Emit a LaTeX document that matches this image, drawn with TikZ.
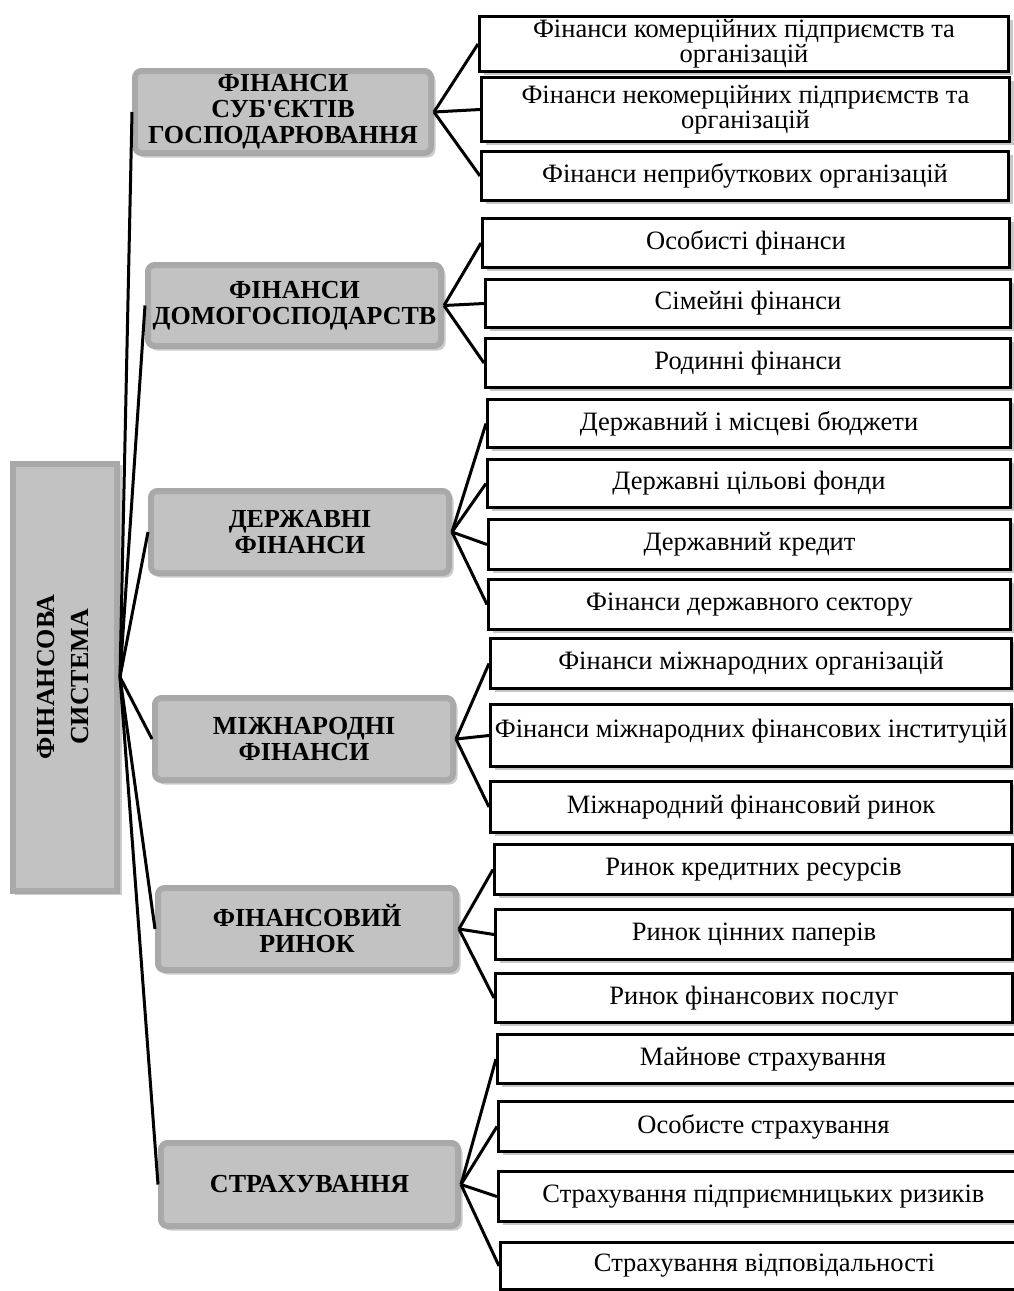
\documentclass[tikz,border=0pt]{standalone}
\usepackage{fontspec}
\setmainfont{Liberation Serif}
\usetikzlibrary{shadows}
\definecolor{catfill}{HTML}{C2C2C2}
\definecolor{catdraw}{HTML}{A8A8A8}
\definecolor{catrim}{HTML}{8E8E8E}
\newcommand\leafnode[6]{%
  \pgfmathsetmacro\lfw{#4-#2-3}%
  \pgfmathsetmacro\lfh{#5-#3-3}%
  \node[leaf, minimum width=\lfw pt, minimum height=\lfh pt] (#1) at ({(#2+#4)/2},{(#3+#5)/2}) {#6};}
\newcommand\catnode[6]{%
  \pgfmathsetmacro\lfw{#4-#2-3}%
  \pgfmathsetmacro\lfh{#5-#3-3}%
  \node[cat, minimum width=\lfw pt, minimum height=\lfh pt] (#1) at ({(#2+#4)/2},{(#3+#5)/2}) {#6};}
\begin{document}
\begin{tikzpicture}[x=1pt,y=-1pt,
  leaf/.style={draw=black, line width=3pt, fill=white, align=center, inner sep=0pt,
    font=\fontsize{26.5}{21}\selectfont,
    drop shadow={shadow xshift=4pt, shadow yshift=-3pt, opacity=0.22, fill=black}},
  cat/.style={draw=catdraw, line width=3pt, fill=catfill, rounded corners=8pt, align=center, inner sep=1pt,
    font=\bfseries\fontsize{26}{26}\selectfont,
    path picture={\draw[catrim, line width=9pt, opacity=0.45, rounded corners=8pt]
      (path picture bounding box.south west) rectangle (path picture bounding box.north east);},
    drop shadow={shadow xshift=3pt, shadow yshift=-3pt, opacity=0.2, fill=black}},
  rootbox/.style={draw=catdraw, line width=3pt, fill=catfill, inner sep=1pt,
    font=\bfseries\fontsize{26}{34}\selectfont,
    path picture={\draw[catrim, line width=9pt, opacity=0.45]
      (path picture bounding box.south west) rectangle (path picture bounding box.north east);},
    drop shadow={shadow xshift=3pt, shadow yshift=-3pt, opacity=0.2, fill=black}},
  link/.style={line width=3pt, black}]
\useasboundingbox (0,0) rectangle (1014,1291);
\clip (0,0) rectangle (1014,1291);
\fill[white] (0,0) rectangle (1014,1291);

% root
\node[rootbox, minimum width=107pt, minimum height=430pt] (root) at (65,677)
  {\rotatebox{90}{\begin{tabular}{@{}c@{}}ФІНАНСОВА\\СИСТЕМА\end{tabular}}};

% categories
\catnode{ca}{132}{68}{434}{156}{ФІНАНСИ\\СУБ\textquotesingle ЄКТІВ\\ГОСПОДАРЮВАННЯ}
\catnode{cb}{145}{262}{444}{349}{ФІНАНСИ\\ДОМОГОСПОДАРСТВ}
\catnode{cc}{148}{488}{452}{576}{ДЕРЖАВНІ\\ФІНАНСИ}
\catnode{cd}{152}{695}{456}{783}{МІЖНАРОДНІ\\ФІНАНСИ}
\catnode{ce}{155}{885}{459}{973}{ФІНАНСОВИЙ\\РИНОК}
\catnode{cf}{158}{1140}{461}{1229}{СТРАХУВАННЯ}

% leaves
\leafnode{l1}{478}{15}{1010}{73}{Фінанси комерційних підприємств та\\організацій}
\leafnode{l2}{480}{76}{1011}{143}{Фінанси некомерційних підприємств та\\організацій}
\leafnode{l3}{480}{150}{1010}{202}{Фінанси неприбуткових організацій}
\leafnode{l4}{481}{217}{1011}{269}{Особисті фінанси}
\leafnode{l5}{484}{278}{1012}{329}{Сімейні фінанси}
\leafnode{l6}{484}{337}{1012}{389}{Родинні фінанси}
\leafnode{l7}{486}{398}{1012}{449}{Державний і місцеві бюджети}
\leafnode{l8}{486}{458}{1012}{509}{Державні цільові фонди}
\leafnode{l9}{487}{518}{1012}{571}{Державний кредит}
\leafnode{l10}{487}{578}{1012}{631}{Фінанси державного сектору}
\leafnode{l11}{489}{637}{1013}{690}{Фінанси міжнародних організацій}
\leafnode{l12}{489}{703}{1013}{768}{\raisebox{0pt}[\height][\dimexpr\depth+9pt\relax]{Фінанси міжнародних фінансових інституцій}}
\leafnode{l13}{489}{780}{1013}{834}{Міжнародний фінансовий ринок}
\leafnode{l14}{493}{843}{1014}{896}{Ринок кредитних ресурсів}
\leafnode{l15}{494}{908}{1014}{961}{Ринок цінних паперів}
\leafnode{l16}{494}{972}{1014}{1024}{Ринок фінансових послуг}
\leafnode{l17}{496}{1033}{1030}{1085}{Майнове страхування}
\leafnode{l18}{497}{1100}{1030}{1153}{Особисте страхування}
\leafnode{l19}{497}{1170}{1030}{1223}{Страхування підприємницьких ризиків}
\leafnode{l20}{499}{1241}{1030}{1291}{Страхування відповідальності}

% connectors root -> categories
\foreach \c in {ca,cb,cc,cd,ce,cf} \draw[link] (root.east) -- (\c.west);
% categories -> leaves
\foreach \l in {l1,l2,l3} \draw[link] (ca.east) -- (\l.west);
\foreach \l in {l4,l5,l6} \draw[link] (cb.east) -- (\l.west);
\foreach \l in {l7,l8,l9,l10} \draw[link] (cc.east) -- (\l.west);
\foreach \l in {l11,l12,l13} \draw[link] (cd.east) -- (\l.west);
\foreach \l in {l14,l15,l16} \draw[link] (ce.east) -- (\l.west);
\foreach \l in {l17,l18,l19,l20} \draw[link] (cf.east) -- (\l.west);
\end{tikzpicture}
\end{document}
